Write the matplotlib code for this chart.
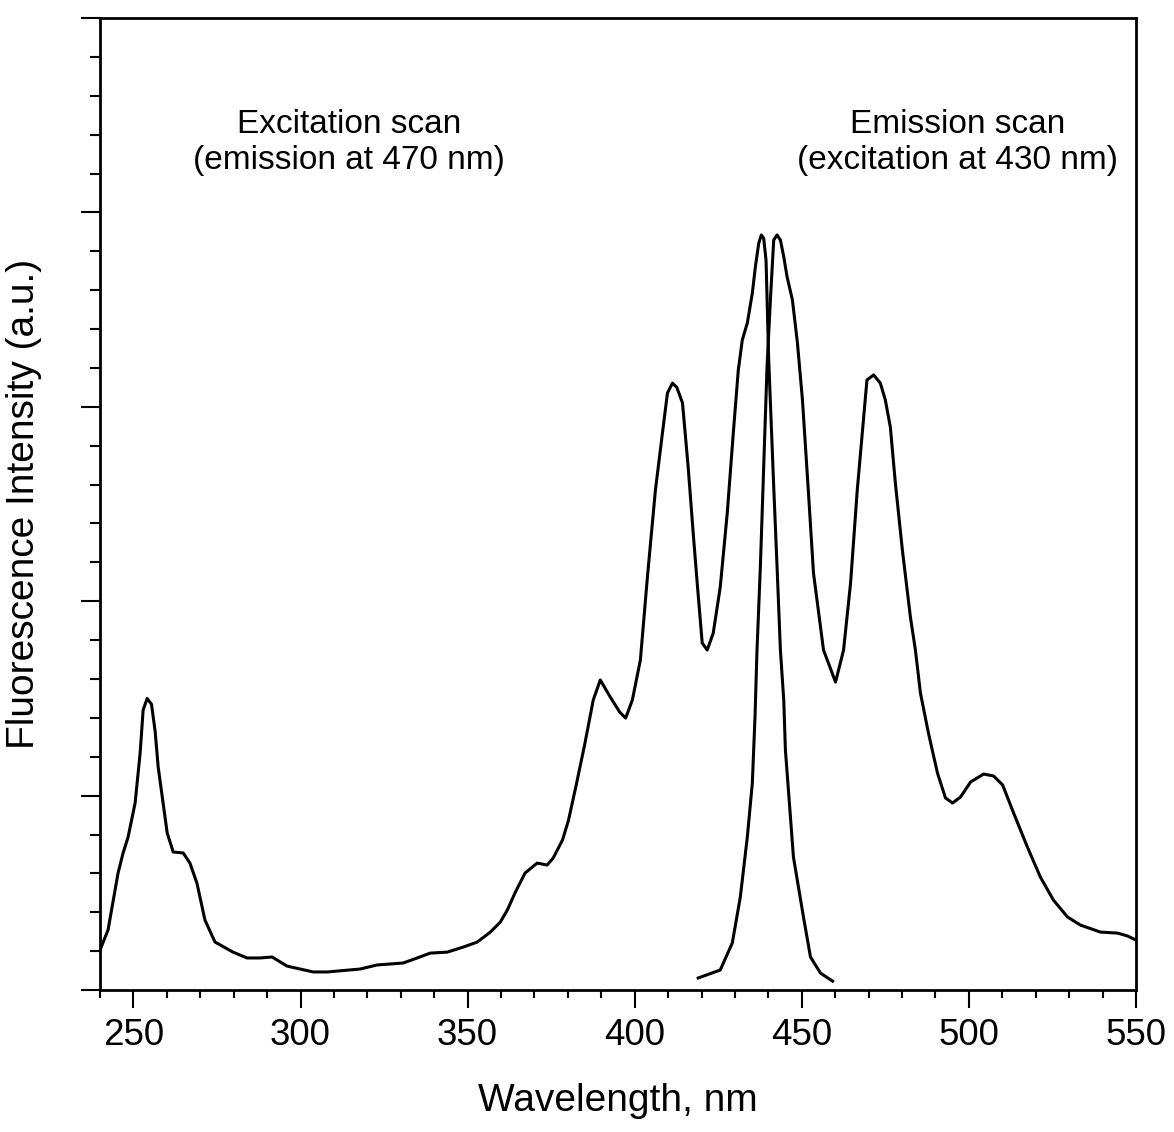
import numpy as np
import matplotlib.pyplot as plt
from matplotlib.ticker import MultipleLocator, NullFormatter

plt.rcParams['font.family'] = ['Liberation Sans', 'DejaVu Sans']

# excitation scan (emission at 470 nm)
exc_nm = [240.0, 242.4, 245.4, 246.9, 248.4, 250.5, 252.0, 252.9, 254.1, 255.4,
          256.5, 257.4, 260.1, 261.9, 264.9, 266.9, 269.0, 271.4, 274.4, 279.8,
          284.0, 287.9, 291.5, 296.0, 303.8, 308.0, 317.8, 322.9, 330.7, 334.9,
          338.8, 343.9, 348.7, 352.9, 356.8, 359.8, 361.9, 364.3, 367.2, 370.8,
          373.8, 375.6, 378.4, 380.2, 382.5, 385.0, 387.6, 389.7, 392.7, 395.5,
          397.3, 399.3, 401.7, 403.8, 406.2, 408.3, 409.8, 411.3, 412.6, 414.3,
          415.1, 416.0, 417.5, 418.7, 420.2, 421.7, 423.5, 425.6, 427.7, 429.5,
          431.0, 432.2, 433.7, 435.2, 436.1, 437.1, 437.9, 438.6, 439.3, 440.1,
          441.6, 442.6, 443.6, 444.6, 445.1, 447.5, 450.5, 452.6, 455.6, 459.2]
exc_int = [0.206, 0.309, 0.602, 0.705, 0.787, 0.962, 1.219, 1.440, 1.500, 1.470,
           1.330, 1.147, 0.808, 0.710, 0.705, 0.653, 0.550, 0.360, 0.247, 0.195,
           0.165, 0.165, 0.170, 0.123, 0.093, 0.093, 0.108, 0.129, 0.139, 0.165,
           0.190, 0.195, 0.221, 0.247, 0.298, 0.350, 0.412, 0.504, 0.602, 0.653,
           0.643, 0.679, 0.772, 0.874, 1.055, 1.260, 1.492, 1.595, 1.507, 1.430,
           1.399, 1.492, 1.698, 2.124, 2.572, 2.865, 3.071, 3.122, 3.100, 3.020,
           2.865, 2.690, 2.351, 2.094, 1.785, 1.749, 1.836, 2.073, 2.454, 2.865,
           3.189, 3.344, 3.431, 3.585, 3.719, 3.840, 3.884, 3.866, 3.755, 3.241,
           2.589, 2.177, 1.749, 1.492, 1.235, 0.684, 0.376, 0.170, 0.087, 0.046]

# emission scan (excitation at 430 nm)
emi_nm = [419.0, 425.6, 429.2, 431.6, 433.7, 435.2, 436.0, 436.6, 437.6, 439.6,
          440.6, 441.6, 442.6, 443.6, 444.6, 445.6, 447.2, 448.7, 450.2, 452.0,
          453.5, 456.5, 460.1, 462.5, 464.6, 466.6, 468.1, 469.5, 471.5, 473.5,
          475.0, 476.5, 478.0, 480.1, 482.5, 484.0, 485.5, 487.9, 490.6, 493.0,
          495.1, 497.5, 500.5, 504.4, 507.4, 510.1, 513.4, 517.5, 521.4, 525.3,
          529.5, 533.4, 539.4, 544.5, 547.5, 550.0]
emi_int = [0.062, 0.103, 0.242, 0.478, 0.787, 1.065, 1.404, 1.749, 2.176, 3.206,
           3.549, 3.858, 3.884, 3.858, 3.772, 3.669, 3.549, 3.328, 3.035, 2.557,
           2.145, 1.749, 1.584, 1.749, 2.094, 2.572, 2.865, 3.138, 3.164, 3.122,
           3.035, 2.896, 2.608, 2.263, 1.919, 1.749, 1.528, 1.322, 1.116, 0.988,
           0.962, 0.993, 1.070, 1.111, 1.101, 1.055, 0.910, 0.736, 0.581, 0.463,
           0.376, 0.334, 0.298, 0.293, 0.278, 0.257]

fig = plt.figure(figsize=(11.74, 11.32), dpi=100)
ax = fig.add_axes([0.0852, 0.1254, 0.8824, 0.8587])

ax.plot(exc_nm, exc_int, color='black', lw=2.2, solid_joinstyle='round')
ax.plot(emi_nm, emi_int, color='black', lw=2.2, solid_joinstyle='round')

ax.set_xlim(240, 550)
ax.set_ylim(0, 5)
ax.xaxis.set_major_locator(MultipleLocator(50))
ax.xaxis.set_minor_locator(MultipleLocator(10))
ax.yaxis.set_major_locator(MultipleLocator(1))
ax.yaxis.set_minor_locator(MultipleLocator(0.2))
ax.yaxis.set_major_formatter(NullFormatter())

ax.tick_params(axis='x', which='major', direction='out', length=13, width=1.5,
               labelsize=26.5, pad=7)
ax.tick_params(axis='x', which='minor', direction='out', length=6, width=1.5)
ax.tick_params(axis='y', which='major', direction='out', length=14, width=1.5)
ax.tick_params(axis='y', which='minor', direction='out', length=7, width=1.5)
for s in ax.spines.values():
    s.set_linewidth(2)

ax.set_xlabel('Wavelength, nm', fontsize=28, labelpad=22)
ax.set_ylabel('Fluorescence Intensity (a.u.)', fontsize=28, labelpad=24)

ax.text(314.6, 4.36, 'Excitation scan\n(emission at 470 nm)', fontsize=24,
        ha='center', va='center', linespacing=1.2)
ax.text(496.6, 4.36, 'Emission scan\n(excitation at 430 nm)', fontsize=24,
        ha='center', va='center', linespacing=1.2)

fig.savefig('out.png', dpi=100)
